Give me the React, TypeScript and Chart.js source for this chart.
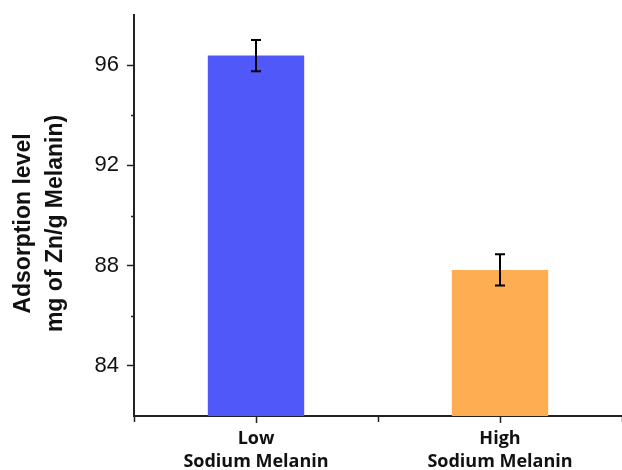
import React, { useEffect, useRef } from "react";
import { Chart, registerables } from "chart.js";

Chart.register(...registerables);

const categories: string[][] = [
  ["Low", "Sodium Melanin"],
  ["High", "Sodium Melanin"],
];
const values: number[] = [96.38, 87.83];
const errors: number[] = [0.62, 0.62];
const barColors: string[] = ["#5058FA", "#FFAD52"];
const majorTicks: number[] = [84, 88, 92, 96];
const minorTicks: number[] = [86, 90, 94];
const yTitle: string[] = ["Adsorption level", "mg of Zn/g Melanin)"];

const AXIS_COLOR = "#222";

const extrasPlugin = {
  id: "extras",
  afterDatasetsDraw(chart: any) {
    const ctx = chart.ctx;
    const meta = chart.getDatasetMeta(0);
    const y = chart.scales.y;
    const x = chart.scales.x;
    ctx.save();
    // error bars
    ctx.strokeStyle = "#000";
    ctx.lineWidth = 2;
    meta.data.forEach((bar: any, i: number) => {
      const cx = bar.x;
      const yTop = y.getPixelForValue(values[i] + errors[i]);
      const yBot = y.getPixelForValue(values[i] - errors[i]);
      ctx.beginPath();
      ctx.moveTo(cx, yTop);
      ctx.lineTo(cx, yBot);
      ctx.moveTo(cx - 5, yTop);
      ctx.lineTo(cx + 5, yTop);
      ctx.moveTo(cx - 5, yBot);
      ctx.lineTo(cx + 5, yBot);
      ctx.stroke();
    });
    // minor y ticks
    ctx.strokeStyle = AXIS_COLOR;
    ctx.lineWidth = 1.5;
    minorTicks.forEach((v) => {
      const py = Math.round(y.getPixelForValue(v)) + 0.5;
      ctx.beginPath();
      ctx.moveTo(y.right - 3, py);
      ctx.lineTo(y.right, py);
      ctx.stroke();
    });
    // x boundary ticks
    const c0 = x.getPixelForValue(0);
    const c1 = x.getPixelForValue(1);
    const half = (c1 - c0) / 2;
    [c0 - half, c0 + half, c1 + half].forEach((px) => {
      ctx.beginPath();
      ctx.moveTo(Math.round(px) + 0.5, x.top);
      ctx.lineTo(Math.round(px) + 0.5, x.top + 6);
      ctx.stroke();
    });
    // y title
    ctx.fillStyle = "#111";
    ctx.font = "bold 23px 'Liberation Sans', Arial, sans-serif";
    ctx.textAlign = "center";
    ctx.textBaseline = "middle";
    const cy = 223.5;
    ctx.translate(0, cy);
    ctx.rotate(-Math.PI / 2);
    ctx.fillText(yTitle[0], 0, 24);
    ctx.fillText(yTitle[1], 0, 56);
    ctx.restore();
  },
};

export default function App() {
  const ref = useRef<HTMLCanvasElement | null>(null);

  useEffect(() => {
    document.body.style.margin = "0";
    if (!ref.current) return;
    const chart = new Chart(ref.current, {
      type: "bar",
      data: {
        labels: categories as any,
        datasets: [
          {
            data: values,
            backgroundColor: barColors,
            borderWidth: 0,
            barPercentage: 0.395,
            categoryPercentage: 1,
          },
        ],
      },
      options: {
        animation: false,
        responsive: false,
        layout: { padding: { left: 0, right: -4, top: 15, bottom: 0 } },
        plugins: {
          legend: { display: false },
          tooltip: { enabled: false },
          title: { display: false },
        },
        scales: {
          x: {
            type: "category",
            offset: true,
            grid: {
              offset: false,
              drawOnChartArea: false,
              tickLength: 7,
              tickColor: AXIS_COLOR,
              tickWidth: 1.5,
            },
            border: { display: true, color: AXIS_COLOR, width: 2 },
            ticks: {
              color: "#111",
              padding: 4,
              font: { family: "'Open Sans', sans-serif", size: 18, weight: "bold", lineHeight: 1.28 },
              maxRotation: 0,
              autoSkip: false,
            },
            afterFit: (s: any) => {
              s.height = 54;
              s.paddingLeft = 0;
              s.paddingRight = 0;
            },
          },
          y: {
            type: "linear",
            min: 82,
            max: 98,
            afterBuildTicks: (s: any) => {
              s.ticks = majorTicks.map((v) => ({ value: v }));
            },
            grid: {
              drawOnChartArea: false,
              tickLength: 7,
              tickColor: AXIS_COLOR,
              tickWidth: 1.5,
            },
            border: { display: true, color: AXIS_COLOR, width: 2 },
            ticks: {
              color: "#111",
              padding: 8,
              font: { family: "'Liberation Sans', Arial, sans-serif", size: 22 },
            },
            afterFit: (s: any) => {
              s.width = 134;
              s.paddingTop = 0;
              s.paddingBottom = 0;
            },
          },
        },
      },
      plugins: [extrasPlugin],
    });
    return () => chart.destroy();
  }, []);

  return (
    <div style={{ width: 622, height: 470, background: "#fff" }}>
      <canvas ref={ref} width={622} height={470} />
    </div>
  );
}
